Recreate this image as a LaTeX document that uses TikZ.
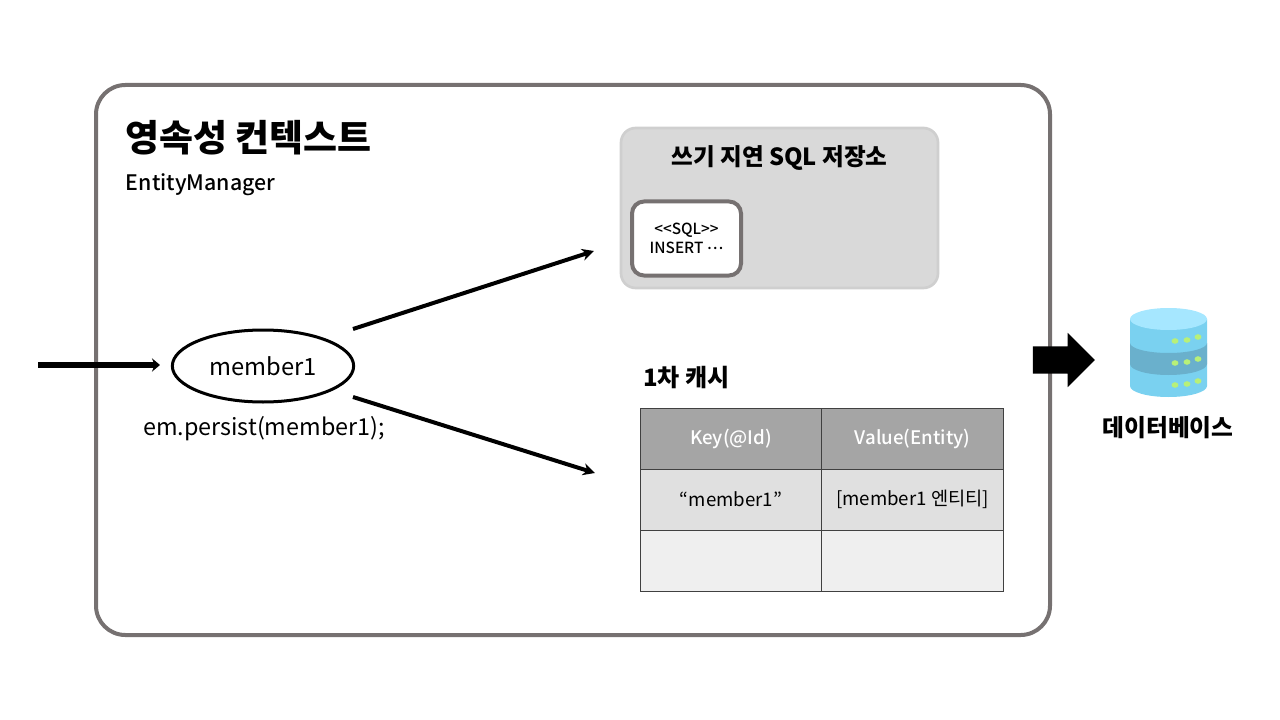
\documentclass[tikz,border=0pt]{standalone}
\usepackage{fontspec}
\setmainfont[Ligatures=NoCommon]{Noto Sans CJK KR}
\newfontfamily\mediumfont[Ligatures=NoCommon]{Noto Sans CJK KR Medium}
\usetikzlibrary{shapes.geometric,shapes.arrows,arrows.meta}
\definecolor{framegray}{HTML}{767171}
\definecolor{storegray}{HTML}{D9D9D9}
\definecolor{storeline}{HTML}{CFCFCF}
\definecolor{headgray}{HTML}{A5A5A5}
\definecolor{rowone}{HTML}{E0E0E0}
\definecolor{rowtwo}{HTML}{EFEFEF}
\definecolor{dbtop}{HTML}{A6E7FF}
\definecolor{dbbody}{HTML}{7AD1F0}
\definecolor{dbband}{HTML}{6AB0CC}
\definecolor{dbdot}{HTML}{B8F078}
\begin{document}
\begin{tikzpicture}[
        x=0.75pt, y=-0.75pt,
        node distance=45.75pt,
        label/.style={inner sep=0pt, anchor=center},
        frame/.style={rectangle, rounded corners=22pt, draw=framegray, line width=3pt, fill=white, minimum width=715.5pt, minimum height=412.5pt},
        store/.style={rectangle, rounded corners=11pt, draw=storeline, line width=2pt, fill=storegray, minimum width=237.75pt, minimum height=120pt},
        sqlbox/.style={rectangle, rounded corners=9pt, draw=framegray, line width=3pt, fill=white, minimum width=81.75pt, minimum height=55.5pt, align=center, font=\fontsize{11.5pt}{14.5pt}\mediumfont},
        cell/.style={rectangle, draw=black!75, line width=0.75pt, minimum width=136.5pt, minimum height=45.75pt, font=\fontsize{14pt}{16pt}\selectfont},
        headcell/.style={cell, fill=headgray, text=white, font=\fontsize{14pt}{16pt}\mediumfont},
        arrow/.style={line width=3pt,-{Stealth[length=9pt,width=9pt]}}
    ]
        \useasboundingbox (0,0) rectangle (1280,720);
        \node (context) [frame] at (573,360) {};
        \node (contexttitle) [label, font=\fontsize{27.7pt}{32pt}\selectfont\bfseries] at (248.5,138) {영속성 컨텍스트};
        \node (manager) [label, font=\fontsize{16pt}{18pt}\mediumfont] at (200.5,185) {EntityManager};

        \node (store) [store] at (779.5,208) {};
        \node (storetitle) [label, font=\fontsize{17.7pt}{20pt}\selectfont\bfseries] at (779.5,158) {쓰기 지연 SQL 저장소};
        \node (sql) [sqlbox] at (686.5,238.5) {{<}{<}SQL{>}{>}\\INSERT \raisebox{0.3em}{…}};

        \node (member) [ellipse, draw=black, line width=2.25pt, minimum width=136pt, minimum height=54pt, inner sep=0pt, font=\fontsize{17.8pt}{20pt}\selectfont] at (263,366) {member1};
        \node (persist) [label, font=\fontsize{17.5pt}{20pt}\selectfont] at (264,429) {em.persist(member1);};

        \node (cachetitle) [label, font=\fontsize{18pt}{20pt}\selectfont\bfseries] at (686.5,378) {1차 캐시};
        \node (keyhead) [headcell] at (731,438.5) {Key(@Id)};
        \node (keyone) [cell, fill=rowone, below of=keyhead] {“member1”};
        \node (keytwo) [cell, fill=rowtwo, below of=keyone] {};
        \node (valuehead) [headcell] at (912.5,438.5) {Value(Entity)};
        \node (valueone) [cell, fill=rowone, below of=valuehead] {[member1 엔티티]};
        \node (valuetwo) [cell, fill=rowtwo, below of=valueone] {};

        % free ends of the arrows
        \coordinate (entry) at (38,365);
        \coordinate (memberup) at (353,329);
        \coordinate (memberdown) at (353,397);
        \coordinate (storein) at (594,251);
        \coordinate (cachein) at (595,473);
        \coordinate (memberin) at (160,365);

        \draw[arrow, line width=4.5pt, -{Stealth[length=6pt,width=10pt]}] (entry) -- (memberin);
        \draw[arrow] (memberup) -- (storein);
        \draw[arrow] (memberdown) -- (cachein);

        \node (flush) [single arrow, fill=black, inner sep=0pt, inner ysep=10.1pt, minimum height=46.5pt, single arrow head extend=10.1pt, single arrow head indent=0pt] at (1057,360) {};

        % database
        \fill[dbbody] (1130,319) -- (1130,386) arc[start angle=180, end angle=0, x radius=38.5, y radius=11] -- (1207,319) -- cycle;
        \fill[dbband] (1130,343) arc[start angle=180, end angle=0, x radius=38.5, y radius=10] -- (1207,364) arc[start angle=0, end angle=180, x radius=38.5, y radius=11] -- cycle;
        \fill[dbtop] (1168.5,319) ellipse[x radius=38.5, y radius=11];
        \foreach \row in {0,22,44}
            \foreach \px/\py in {1175/341, 1187/340, 1198/337}
                \fill[dbdot] (\px,\py+\row) ellipse[x radius=3.4, y radius=2.8];
        \node (dbtitle) [label, font=\fontsize{17.8pt}{20pt}\selectfont\bfseries] at (1168,428) {데이터베이스};
    \end{tikzpicture}
\end{document}
